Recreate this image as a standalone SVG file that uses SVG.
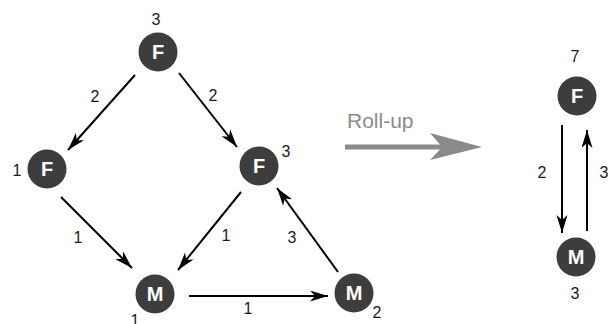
<svg xmlns="http://www.w3.org/2000/svg" width="611" height="324" viewBox="0 0 611 324">
<defs>
<style>
.node circle{fill:#3d3d3d;}
.node text{fill:#fff;font-family:"Liberation Sans",Arial,sans-serif;font-weight:bold;font-size:20px;text-anchor:middle;}
.lbl{fill:#1a1a1a;font-family:"Liberation Sans",Arial,sans-serif;font-size:16px;text-anchor:middle;}
.edge{stroke:#000;stroke-width:2;fill:none;marker-end:url(#ah);}
</style>
<marker id="ah" markerUnits="userSpaceOnUse" markerWidth="19" markerHeight="12" refX="18" refY="5.5" orient="auto" viewBox="0 0 19 12">
<path d="M0,0 L18,5.5 L0,11 L5,5.5 z" fill="#000"/>
</marker>
</defs>
<rect width="611" height="324" fill="#fff"/>
<g id="connectors">
<line class="edge" x1="135" y1="75" x2="68" y2="150"/>
<line class="edge" x1="179" y1="73" x2="237" y2="147"/>
<line class="edge" x1="61" y1="197" x2="132" y2="268"/>
<line class="edge" x1="241" y1="192" x2="178" y2="270"/>
<line class="edge" x1="189" y1="296" x2="328" y2="296"/>
<line class="edge" x1="338" y1="272" x2="277" y2="188"/>
<line class="edge" x1="562" y1="125" x2="562" y2="233"/>
<line class="edge" x1="587" y1="231" x2="587" y2="130"/>
</g>
<g id="edge-labels">
<text class="lbl" x="95" y="102">2</text>
<text class="lbl" x="213" y="101">2</text>
<text class="lbl" x="78" y="243">1</text>
<text class="lbl" x="226" y="241">1</text>
<text class="lbl" x="292" y="243">3</text>
<text class="lbl" x="248" y="314">1</text>
<text class="lbl" x="542" y="178">2</text>
<text class="lbl" x="604" y="178">3</text>
</g>
<g id="node-top-F" class="node"><circle cx="158" cy="52" r="19.5"/><text x="158" y="59">F</text></g>
<g id="node-left-F" class="node"><circle cx="47" cy="169" r="19.5"/><text x="47" y="176">F</text></g>
<g id="node-right-F" class="node"><circle cx="259" cy="166" r="19.5"/><text x="259" y="173">F</text></g>
<g id="node-M1" class="node"><circle cx="155" cy="294" r="19.5"/><text x="155" y="301">M</text></g>
<g id="node-M2" class="node"><circle cx="354" cy="293" r="19.5"/><text x="354" y="300">M</text></g>
<g id="node-rollup-F" class="node"><circle cx="577" cy="96" r="19.5"/><text x="577" y="103">F</text></g>
<g id="node-rollup-M" class="node"><circle cx="576" cy="257" r="19.5"/><text x="576" y="264">M</text></g>
<g id="node-labels">
<text class="lbl" x="156" y="25">3</text>
<text class="lbl" x="17" y="176">1</text>
<text class="lbl" x="286" y="157">3</text>
<text class="lbl" x="135" y="326">1</text>
<text class="lbl" x="377" y="318">2</text>
<text class="lbl" x="575" y="62">7</text>
<text class="lbl" x="575" y="299">3</text>
</g>
<g id="rollup">
<text x="347" y="128" fill="#8a8a8a" font-family="Liberation Sans, Arial, sans-serif" font-size="21">Roll-up</text>
<path d="M345,144.5 L440,144.5 L430,133 L482,147 L430,160 L440,149.5 L345,149.5 z" fill="#8a8a8a"/>
</g>
</svg>
